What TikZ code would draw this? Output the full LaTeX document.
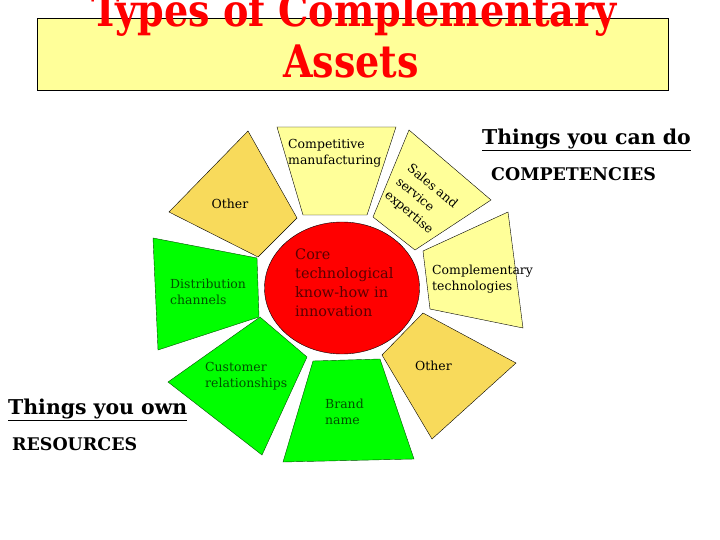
\documentclass[tikz,border=0pt]{standalone}
\usepackage{fontspec}
\setmainfont{DejaVu Serif}
\newfontfamily\titlefont{DejaVu Serif}[FakeStretch=0.85]
\definecolor{paleyel}{HTML}{FFFF99}
\definecolor{goldyel}{HTML}{F8DA5B}
\definecolor{segreen}{HTML}{00FF00}
\definecolor{darkgreen}{HTML}{005000}
\definecolor{corered}{HTML}{FF0000}
\definecolor{maroon}{HTML}{5A0000}
\begin{document}
\begin{tikzpicture}[x=1bp,y=-1bp,
    lightseg/.style={fill=paleyel,draw=black},
    darkseg/.style={fill=goldyel,draw=black},
    greenseg/.style={fill=segreen,draw=darkgreen},
    lbl/.style={font=\fontsize{12.5}{16.5}\selectfont,align=left,inner sep=0pt},
    head/.style={font=\fontsize{20.5}{24}\selectfont\bfseries,inner sep=0pt,anchor=west},
    caps/.style={font=\fontsize{17.5}{20}\selectfont\bfseries,inner sep=0pt,anchor=west}]
    \useasboundingbox (0,0) rectangle (720,540);
    % Title box
    \draw[fill=paleyel,line width=0.9pt] (37,18) rectangle (668,90);
    \node[font=\titlefont\fontsize{45}{50}\selectfont\bfseries,text=red,inner sep=0pt,anchor=base]
        (title) at (354,27) {Types of Complementary};
    \node[font=\titlefont\fontsize{45}{50}\selectfont\bfseries,text=red,inner sep=0pt,anchor=base]
        (assets) at (351,78) {Assets};
    % Segments round the core
    \draw[darkseg] (248,131) -- (297,218) -- (258,257) -- (169,212) -- cycle;
    \draw[lightseg] (277,127) -- (396,127) -- (367,215) -- (303,215) -- cycle;
    \draw[lightseg] (409,130) -- (491,200) -- (415,250) -- (373,217) -- cycle;
    \draw[lightseg] (423,251) -- (508,212) -- (523,328) -- (430,309) -- cycle;
    \draw[darkseg] (423,313) -- (516,363) -- (432,439) -- (382,355) -- cycle;
    \draw[greenseg] (313,361) -- (380,359) -- (414,459) -- (283,462) -- cycle;
    \draw[greenseg] (260,317) -- (307,357) -- (262,455) -- (168,382) -- cycle;
    \draw[greenseg] (153,238) -- (257,258) -- (259,317) -- (158,350) -- cycle;
    % Core
    \draw[fill=corered] (342,288) ellipse [x radius=77.5, y radius=66];
    \node[lbl,font=\fontsize{14.5}{19}\selectfont,text=maroon,anchor=west] (core) at (295,283)
        {Core\\technological\\know-how in\\innovation};
    % Labels
    \node[lbl,anchor=west] (manuf) at (288,153) {Competitive\\manufacturing};
    \node[lbl] (otherul) at (230,204) {Other};
    \node[lbl,font=\fontsize{12.5}{17.5}\selectfont,rotate=-40] (sales) at (421,200)
        {Sales and\\service\\expertise};
    \node[lbl,anchor=west] (compl) at (432,279) {Complementary\\technologies};
    \node[lbl,anchor=west] (otherlr) at (415,366) {Other};
    \node[lbl,anchor=west,text=darkgreen] (brand) at (325,412) {Brand\\name};
    \node[lbl,anchor=west,text=darkgreen] (cust) at (205,376) {Customer\\relationships};
    \node[lbl,anchor=west,text=darkgreen] (distr) at (170,292) {Distribution\\channels};
    % Headings
    \node[head] (can) at (482,140) {\underline{Things you can do}};
    \node[caps] (compet) at (491,174) {COMPETENCIES};
    \node[head] (own) at (8,410) {\underline{Things you own}};
    \node[caps] (resour) at (12,444) {RESOURCES};
\end{tikzpicture}
\end{document}
